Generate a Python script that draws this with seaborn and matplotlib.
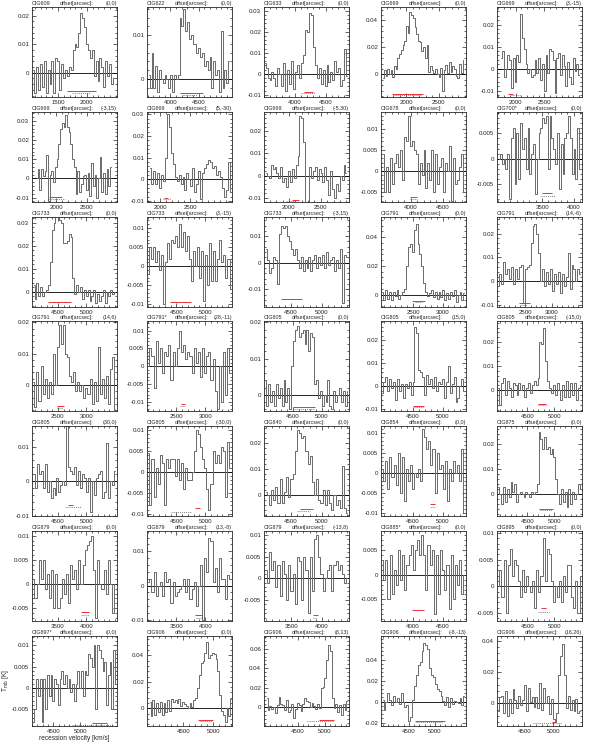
import numpy as np
import pandas as pd
import seaborn as sns
import matplotlib.pyplot as plt
from matplotlib.ticker import FixedLocator, MultipleLocator, AutoMinorLocator, FuncFormatter

# Galaxy names and pointing offsets of each panel
names = ["CIG609", "CIG622", "CIG633", "CIG669", "CIG669",
         "CIG669", "CIG669", "CIG669", "CIG678", "CIG700*",
         "CIG733", "CIG733", "CIG733", "CIG791", "CIG791",
         "CIG791", "CIG791*", "CIG805", "CIG805", "CIG805",
         "CIG805", "CIG805", "CIG840", "CIG854", "CIG875",
         "CIG879", "CIG879", "CIG879", "CIG885*", "CIG895",
         "CIG897*", "CIG906", "CIG906", "CIG906", "CIG906"]
offsets = ["(0,0)", "(0,0)", "(0,0)", "(0,0)", "(3,-15)",
           "(-3,15)", "(5,-30)", "(-5,30)", "(0,0)", "(0,0)",
           "(0,0)", "(3,-15)", "(-3,15)", "(0,0)", "(14,-6)",
           "(14,6)", "(28,-11)", "(0,0)", "(15,0)", "(-15,0)",
           "(30,0)", "(-30,0)", "(0,0)", "(0,0)", "(0,0)",
           "(0,0)", "(13,-8)", "(-13,8)", "(0,0)", "(0,0)",
           "(0,0)", "(0,0)", "(8,13)", "(-8,-13)", "(16,26)"]

# Spectra (T_mb in K), one channel per value
t_609 = [0.001, -0.007, 0.002, -0.006, 0.003, -0.005, 0.004, -0.007, 0.001, -0.004, 0.004, -0.007, 0.005, 0.004, -0.006,
         0.003, -0.002, 0.001, -0.001, 0.002, 0.001, 0.008, 0.010, 0.009, 0.014, 0.021, 0.019, 0.016, 0.010, 0.008,
         0.005, 0.008, -0.001, 0.004, -0.003, 0.005, 0.002, -0.005, 0.004, -0.001, 0.003, -0.004, -0.002, -0.002]
t_622 = [0.001, -0.002, 0.006, -0.002, 0.003, -0.003, 0.002, 0.0, -0.001, 0.001, 0.0, -0.002, 0.001, -0.003, 0.001,
         0.0, 0.001, 0.014, 0.012, 0.016, 0.011, 0.013, 0.009, 0.010, 0.008, 0.008, 0.006, 0.007, 0.005, 0.006,
         0.003, 0.004, 0.002, 0.005, -0.002, 0.004, 0.001, 0.002, -0.003, 0.011, -0.002, 0.002, -0.001, 0.004]
t_633 = [0.005, 0.003, -0.002, -0.003, 0.001, -0.002, -0.006, 0.003, 0.0, -0.006, 0.005, -0.008, 0.002, -0.005, 0.006,
         -0.007, 0.001, 0.004, -0.002, 0.005, 0.009, 0.021, 0.020, 0.029, 0.028, 0.013, 0.004, -0.002, 0.003, -0.005,
         0.002, -0.006, 0.004, -0.004, 0.001, -0.003, 0.006, 0.001, 0.003, -0.006, -0.003, 0.012, -0.001]
t_669a = [-0.003, 0.003, -0.001, 0.004, 0.0, 0.003, -0.002, 0.006, 0.004, 0.012, 0.015, 0.018, 0.022, 0.025, 0.036,
          0.031, 0.046, 0.044, 0.042, 0.035, 0.030, 0.025, 0.024, 0.017, 0.020, 0.012, 0.022, 0.002, 0.006, 0.003,
          0.001, 0.004, 0.0, -0.002, 0.005, -0.012, 0.003, 0.007, 0.001, 0.009, 0.002, 0.006, 0.004, -0.001, -0.003,
          0.008, 0.001, 0.011]
t_669b = [0.005, 0.008, -0.004, 0.0, 0.006, 0.004, -0.009, 0.005, -0.006, 0.006, 0.003, 0.025, 0.014, 0.009, 0.002,
          -0.002, 0.0, -0.004, -0.003, 0.004, -0.002, 0.005, -0.005, 0.002, -0.010, 0.006, -0.002, 0.009, 0.008, 0.004,
          -0.011, 0.005, 0.007, -0.003, 0.006, 0.001, -0.008, 0.003, -0.004, -0.007, 0.005, -0.001, 0.002, -0.003]
t_669c = [0.0, 0.005, -0.006, 0.005, 0.001, 0.004, 0.012, -0.012, 0.002, 0.004, -0.002, 0.006, 0.010, 0.018, 0.026,
          0.029, 0.027, 0.033, 0.027, 0.024, 0.018, 0.010, 0.006, -0.008, 0.004, -0.007, -0.003, 0.001, 0.002, -0.006,
          0.003, -0.009, 0.008, -0.004, 0.002, -0.010, 0.0, 0.011, -0.007, 0.003, -0.008, 0.005, -0.004, 0.006]
t_669d = [0.005, -0.002, 0.004, -0.002, 0.003, -0.004, 0.002, -0.001, 0.010, 0.030, 0.024, 0.012, 0.007, 0.001, -0.001,
          0.002, -0.002, 0.001, -0.005, 0.003, 0.0, -0.003, 0.005, -0.006, -0.002, 0.004, -0.009, 0.003, 0.005, 0.007,
          0.009, 0.008, 0.005, 0.006, 0.002, 0.004, 0.001, -0.004, -0.008, -0.005, 0.008, -0.006]
t_669e = [0.001, 0.0, -0.001, 0.005, 0.003, 0.004, 0.001, -0.001, 0.004, -0.003, -0.001, -0.005, 0.002, -0.003, 0.003,
          -0.001, 0.005, 0.009, 0.027, 0.026, 0.015, -0.012, -0.012, 0.004, -0.001, 0.002, 0.004, -0.002, 0.003, 0.001,
          -0.003, 0.004, -0.002, -0.009, 0.002, -0.006, -0.010, -0.004, -0.007, 0.0, -0.002, 0.005, 0.001]
t_678 = [0.004, -0.005, 0.001, -0.005, 0.003, -0.003, 0.002, 0.004, 0.001, 0.005, -0.002, 0.008, 0.007, 0.013, 0.006,
         0.007, 0.005, 0.004, -0.003, 0.002, -0.001, 0.005, -0.004, 0.002, -0.002, 0.005, -0.005, 0.004, -0.003, 0.001,
         0.003, -0.005, 0.002, 0.0, 0.006, -0.007, 0.003, -0.003, -0.002, 0.001, 0.004, -0.005]
t_700 = [0.0, 0.001, -0.001, 0.0, -0.002, 0.001, -0.008, 0.004, 0.006, -0.005, 0.005, -0.004, 0.007, 0.002, 0.004,
         -0.002, 0.006, -0.003, 0.001, 0.003, -0.007, 0.0, 0.005, 0.006, 0.008, 0.007, 0.0085, -0.002, 0.0085, 0.004,
         0.002, -0.001, 0.005, -0.006, 0.003, -0.003, 0.004, 0.005, 0.0085, 0.004, -0.003, 0.002, -0.004, 0.006, -0.002]
t_733a = [0.003, -0.003, 0.004, -0.002, 0.002, -0.002, 0.0, 0.001, 0.003, 0.013, 0.027, 0.030, 0.035, 0.033, 0.031,
          0.030, 0.021, 0.021, 0.022, 0.025, 0.024, 0.006, -0.001, 0.003, 0.0, 0.002, -0.003, 0.001, -0.002, 0.001,
          -0.004, -0.002, 0.001, -0.005, -0.001, -0.004, -0.002, 0.001, -0.005, 0.0, -0.002, 0.001, -0.001, 0.0]
t_733b = [-0.002, 0.005, 0.002, 0.005, 0.001, 0.004, -0.001, 0.003, -0.010, 0.001, 0.006, 0.002, 0.007, 0.006, 0.008,
          0.005, 0.011, 0.005, 0.009, 0.004, 0.008, 0.002, -0.004, 0.004, 0.0, 0.005, -0.003, 0.004, -0.009, 0.003,
          -0.005, 0.006, -0.004, 0.004, -0.004, 0.002, 0.007, 0.001, 0.003, -0.003, 0.002, -0.006]
t_733c = [0.005, 0.001, -0.004, -0.002, 0.002, 0.001, -0.008, 0.011, 0.014, 0.013, 0.014, 0.010, 0.008, 0.005, 0.003,
          0.005, 0.001, -0.002, 0.002, -0.003, 0.001, -0.002, 0.002, -0.003, 0.001, 0.003, -0.002, 0.002, -0.001, 0.003,
          -0.002, 0.004, -0.001, 0.001, 0.002, -0.003, 0.001, -0.002, 0.005, -0.015, 0.003, 0.002]
t_791a = [0.002, -0.004, 0.003, -0.003, 0.002, -0.004, 0.002, -0.001, 0.003, -0.003, 0.0, 0.002, 0.004, 0.020, 0.033,
          0.035, 0.030, 0.045, 0.049, 0.035, 0.028, 0.020, 0.008, 0.002, -0.001, 0.001, 0.003, -0.002, 0.002, -0.003,
          0.002, -0.002, 0.003, -0.004, 0.001, -0.003, 0.002, -0.001, 0.003, -0.005, 0.0, 0.002, -0.004, 0.001]
t_791b = [-0.002, 0.003, -0.001, 0.008, 0.003, 0.005, 0.001, 0.006, -0.001, 0.005, 0.001, 0.006, 0.007, -0.009, 0.005,
          0.006, 0.007, 0.016, 0.023, 0.024, 0.020, 0.012, 0.0, 0.005, -0.002, 0.004, -0.001, 0.005, -0.004, 0.003,
          -0.001, 0.004, -0.005, 0.003, -0.002, 0.002, 0.012, -0.003, 0.007, 0.005, 0.0, 0.005, 0.003]
t_791c = [0.001, -0.007, 0.004, -0.005, 0.006, -0.003, 0.002, -0.004, 0.001, -0.003, 0.010, 0.0, 0.012, 0.019, 0.013,
          0.019, 0.010, 0.009, 0.003, 0.001, 0.004, -0.002, 0.001, -0.002, 0.0, -0.004, -0.001, -0.003, 0.002, -0.006,
          0.001, -0.005, 0.012, -0.003, 0.002, -0.004, 0.003, -0.006, 0.005, 0.009, -0.008]
t_791d = [0.0, 0.005, 0.003, -0.006, 0.007, 0.001, 0.005, -0.002, 0.004, 0.003, 0.006, -0.004, 0.004, 0.0, 0.005,
          0.010, 0.004, 0.006, 0.002, 0.004, 0.003, -0.002, 0.005, 0.001, 0.004, -0.003, 0.005, -0.002, 0.003, 0.004,
          -0.004, 0.002, -0.007, -0.012, 0.0, -0.010, 0.004, -0.008, 0.005, -0.002]
t_805a = [0.004, -0.003, 0.003, -0.002, 0.001, -0.003, 0.003, -0.001, 0.002, -0.003, 0.004, -0.002, 0.002, -0.004, 0.008,
          0.015, 0.018, 0.019, 0.016, 0.017, 0.018, 0.014, 0.018, 0.012, 0.017, 0.016, 0.003, 0.004, -0.001, 0.001,
          -0.003, 0.0, -0.002, 0.004, -0.003, -0.004, 0.001, -0.002, 0.0, 0.002, -0.002, 0.001, -0.003, 0.001]
t_805b = [-0.003, 0.002, 0.004, -0.002, 0.003, -0.001, 0.002, -0.006, 0.003, -0.002, 0.001, -0.005, 0.001, -0.001, 0.002,
          -0.004, 0.002, 0.026, 0.023, 0.007, 0.006, 0.004, -0.004, 0.005, 0.001, 0.003, -0.001, 0.004, -0.002, 0.002,
          0.001, 0.003, -0.005, 0.002, 0.009, -0.003, 0.001, 0.004, -0.007, -0.005, 0.0, 0.003, -0.002]
t_805c = [0.001, -0.006, 0.003, 0.005, -0.002, 0.004, 0.001, -0.003, 0.003, 0.002, -0.002, 0.003, 0.0, 0.002, -0.003,
          0.001, 0.003, -0.001, 0.002, 0.004, 0.002, 0.005, 0.020, 0.019, 0.026, 0.012, 0.004, 0.001, -0.001, 0.002,
          -0.002, 0.003, 0.0, -0.004, 0.002, -0.003, 0.004, -0.003, 0.003, -0.002, 0.003, -0.004, 0.001, 0.002]
t_805d = [0.002, -0.002, 0.005, 0.002, 0.003, -0.002, 0.005, -0.003, 0.0, -0.005, -0.002, -0.004, 0.001, -0.003, -0.001,
          0.0, -0.001, 0.016, 0.004, 0.003, 0.002, 0.004, -0.001, 0.003, -0.002, 0.002, 0.001, -0.003, 0.001, -0.009,
          0.0, -0.004, 0.001, 0.002, 0.003, -0.005, -0.003, 0.011, -0.005, 0.0, -0.001, 0.003]
t_805e = [0.0045, -0.008, 0.003, -0.006, 0.001, -0.003, 0.004, 0.002, -0.008, 0.003, 0.001, 0.003, 0.003, -0.001, 0.003,
          -0.002, 0.002, -0.004, 0.001, -0.002, -0.002, 0.0, 0.005, 0.010, 0.009, 0.006, 0.003, 0.001, -0.004, -0.009,
          -0.003, 0.005, 0.002, 0.004, 0.002, 0.006, 0.005, -0.006, 0.007, 0.001]
t_840 = [0.001, 0.0, -0.004, 0.002, -0.002, 0.003, -0.003, 0.006, -0.003, 0.001, 0.007, -0.001, 0.006, 0.008, 0.017,
         0.025, 0.024, 0.022, 0.023, 0.017, 0.012, 0.015, 0.005, 0.0, 0.006, -0.002, -0.003, 0.002, -0.004, 0.002,
         -0.003, -0.006, 0.0, -0.004, -0.002, -0.005, 0.011, -0.005, -0.007]
t_854 = [0.001, -0.002, 0.003, -0.004, 0.004, -0.001, 0.002, -0.003, 0.005, -0.005, 0.004, -0.007, 0.001, -0.002, 0.002,
         -0.004, 0.0, -0.001, 0.001, -0.002, 0.011, 0.009, 0.006, 0.008, 0.002, 0.006, -0.005, 0.005, 0.001, 0.002,
         -0.004, 0.003, -0.007, 0.001, -0.002, 0.003, 0.0, 0.002, -0.002, 0.006, -0.010]
t_875 = [0.003, 0.0, -0.004, 0.003, -0.003, 0.002, -0.001, 0.005, 0.001, 0.004, -0.003, 0.0, 0.001, 0.0, -0.001,
         0.001, 0.0, -0.001, 0.001, 0.0, 0.001, 0.004, 0.025, 0.022, 0.018, 0.023, 0.018, 0.019, 0.016, 0.018,
         0.015, 0.006, 0.0, -0.004, 0.002, -0.003, 0.001, -0.005, 0.002, -0.004, 0.001, -0.002, 0.0, 0.004, 0.002]
t_879a = [0.001, -0.003, 0.0, 0.005, 0.001, 0.005, -0.001, 0.002, -0.003, 0.003, -0.005, 0.002, -0.005, -0.003, 0.001,
          -0.002, 0.002, -0.004, 0.004, 0.001, 0.003, -0.001, 0.005, 0.0, 0.004, 0.007, 0.008, 0.009, 0.010, 0.003,
          -0.007, 0.005, 0.0, -0.001, 0.003, -0.002, 0.005, 0.0, -0.006, 0.0]
t_879b = [0.001, 0.002, -0.002, 0.004, -0.003, 0.0, 0.001, -0.003, 0.004, 0.001, 0.002, -0.005, 0.001, -0.003, -0.002,
          -0.001, 0.0, 0.002, -0.002, 0.002, -0.004, -0.001, 0.001, -0.006, 0.0, 0.006, -0.010, 0.008, 0.004, 0.014,
          0.013, 0.001, 0.005, -0.002, 0.008, 0.002, 0.002, -0.004, 0.003, 0.002]
t_879c = [0.002, -0.001, 0.006, 0.002, 0.004, -0.002, 0.003, -0.004, 0.004, 0.001, -0.005, 0.003, -0.003, 0.001, -0.006,
          0.005, 0.004, -0.005, 0.005, 0.002, -0.008, 0.005, -0.003, 0.009, 0.010, 0.005, 0.001, -0.003, 0.0, 0.002,
          0.003, -0.003, 0.003, 0.004, 0.002, 0.003, 0.001, -0.001, 0.0]
t_885 = [0.003, -0.001, 0.003, -0.005, 0.004, -0.004, 0.001, -0.002, 0.005, -0.001, 0.004, -0.003, 0.002, 0.004, 0.006,
         0.001, 0.005, 0.007, 0.004, 0.008, 0.004, -0.003, 0.006, 0.002, 0.005, -0.008, 0.004, -0.004, 0.005, 0.001,
         -0.003, 0.002, -0.007, 0.004, -0.005, 0.002, -0.002, 0.003, -0.004, 0.0]
t_895 = [0.0, 0.003, -0.002, 0.005, -0.005, 0.004, 0.007, 0.002, 0.005, 0.004, 0.001, -0.002, 0.003, -0.001, 0.002,
         0.0, -0.001, 0.001, -0.004, 0.003, -0.001, 0.002, 0.009, 0.001, 0.007, 0.006, 0.001, -0.003, 0.0, -0.002,
         0.001, -0.003, 0.002, -0.001, 0.004, 0.004, -0.002, -0.004, 0.001, -0.005, 0.002]
t_897 = [-0.008, -0.005, 0.002, -0.002, 0.002, -0.008, 0.002, -0.005, 0.003, -0.002, 0.003, -0.003, 0.002, 0.001, -0.004,
         0.002, 0.004, 0.001, 0.003, 0.0, 0.002, -0.001, 0.001, -0.003, 0.001, 0.004, 0.0, 0.004, -0.002, 0.004,
         0.003, 0.008, 0.007, 0.005, 0.010, -0.005, 0.010, 0.009, 0.007, 0.004, 0.006, -0.004, 0.003, 0.006, -0.005,
         0.009, 0.001]
t_906a = [0.005, -0.006, 0.006, -0.005, 0.004, -0.003, 0.005, -0.005, 0.004, -0.003, 0.006, -0.002, 0.007, 0.005, 0.006,
          0.004, 0.007, 0.002, 0.005, 0.003, 0.002, 0.0, 0.004, 0.001, 0.006, 0.008, 0.015, 0.025, 0.034, 0.036,
          0.042, 0.050, 0.038, 0.040, 0.042, 0.041, 0.037, 0.028, 0.010, -0.002, -0.005, -0.010, 0.0, -0.006, 0.007]
t_906b = [0.010, -0.003, 0.001, -0.002, 0.0, -0.006, 0.002, 0.011, 0.004, 0.002, -0.003, 0.008, -0.005, -0.003, 0.004,
          -0.011, -0.002, 0.005, 0.002, -0.004, 0.003, 0.010, 0.007, 0.006, 0.0, 0.005, 0.001, -0.002, 0.003, -0.001,
          0.020, 0.021, 0.030, 0.048, 0.064, 0.058, 0.010, -0.001, 0.003, -0.005, 0.002, -0.008, 0.004, -0.003, 0.007]
t_906c = [0.002, -0.008, 0.0, 0.008, 0.002, -0.003, 0.005, 0.0, 0.003, -0.002, 0.008, 0.0, -0.005, -0.003, -0.018,
          -0.015, 0.002, 0.015, 0.025, 0.035, 0.038, 0.048, 0.056, 0.054, 0.050, 0.032, 0.025, 0.023, 0.017, 0.012,
          0.010, 0.005, 0.001, -0.003, 0.004, -0.005, 0.003, -0.002, 0.001, 0.0, -0.001, 0.003, -0.003, 0.005]
t_906d = [-0.005, 0.004, 0.005, -0.006, 0.008, -0.008, 0.003, -0.006, 0.009, 0.002, -0.003, 0.005, -0.001, 0.002, 0.012,
          -0.005, 0.010, 0.001, 0.004, -0.002, 0.004, -0.003, 0.013, -0.004, 0.010, 0.0, 0.005, -0.007, 0.003, -0.010,
          -0.012, -0.006, 0.018, 0.030, 0.038, 0.018, -0.003, 0.005, -0.004, 0.002, -0.005, 0.003, -0.006, -0.005]

spectra = [t_609, t_622, t_633, t_669a, t_669b,
           t_669c, t_669d, t_669e, t_678, t_700,
           t_733a, t_733b, t_733c, t_791a, t_791b,
           t_791c, t_791d, t_805a, t_805b, t_805c,
           t_805d, t_805e, t_840, t_854, t_875,
           t_879a, t_879b, t_879c, t_885, t_895,
           t_897, t_906a, t_906b, t_906c, t_906d]

# first / last channel velocity (km/s) of every spectrum
vel_first = [1070, 3620, 3510, 1640, 1750, 1680, 1830, 1640, 3560, 2820,
             4075, 4010, 4090, 1975, 1990, 2070, 2010, 4025, 3975, 3970,
             4075, 4010, 4090, 3975, 3970, 3070, 3010, 3090, 3475, 3970,
             4130, 3940, 3930, 4000, 4050]
vel_last = [2500, 5040, 4850, 2880, 3100, 2900, 3180, 2900, 4840, 4100,
            5500, 5440, 5410, 3370, 3540, 3500, 3440, 5440, 5370, 5480,
            5500, 5440, 5410, 5370, 5480, 4500, 4440, 4410, 4870, 5480,
            5670, 5300, 5420, 5560, 5470]

# velocity windows of the line (red) and of the HI width (dashed), with their height
red_win = [(1650, 2150, -0.0065), (4170, 4570, -0.0032), (4150, 4300, -0.0085), (1780, 2250, -0.0145), (1870, 1950, -0.0115),
           (1880, 2100, -0.0095), (2070, 2130, -0.0085), (2050, 2150, -0.0112), (3980, 4100, -0.0062), (3500, 3650, -0.0068),
           (4330, 4730, -0.0045), (4390, 4760, -0.0095), (4340, 4680, -0.0135), (2480, 2700, -0.0045), (2380, 2580, -0.0090),
           (2480, 2600, -0.0068), (2570, 2640, -0.0105), (4500, 4880, -0.0035), (4500, 4680, -0.0085), (4700, 4850, -0.0055),
           (4680, 4760, -0.0068), (4830, 4910, -0.0085), (4650, 4850, -0.0055), (4780, 4880, -0.0078), (4720, 4980, -0.0058),
           (3900, 4050, -0.0058), (3830, 3950, -0.0085), (3850, 3930, -0.0085), (3980, 4180, -0.0072), (4750, 4850, -0.0040),
           (5220, 5500, -0.0083), (4750, 5000, -0.0085), (4900, 5180, -0.0130), (4620, 5190, -0.0180), (4980, 5050, -0.0118)]
dash_win = [(1750, 2050, -0.0072), (4230, 4480, -0.0036), (4100, 4330, -0.0092), (1800, 2230, -0.0150), (1920, 2080, -0.0122),
            (1860, 2150, -0.0105), (2040, 2180, -0.0092), (1950, 2100, -0.0116), (3990, 4090, -0.0066), (3480, 3700, -0.0074),
            None, None, None, (2530, 2650, -0.0055), (2420, 2540, -0.0097),
            (2490, 2590, -0.0074), (2560, 2650, -0.0112), (4520, 4860, -0.0039), (4510, 4670, -0.0092), (4690, 4860, -0.0062),
            (4620, 4900, -0.0074), (4400, 4750, -0.0095), (4600, 4800, -0.0062), (4790, 4870, -0.0085), (4740, 4960, -0.0064),
            (3910, 4040, -0.0064), (3840, 3940, -0.0093), (3860, 3920, -0.0091), None, (4700, 4900, -0.0048),
            (4850, 5620, -0.0087), (4780, 4980, -0.0092), (4670, 5180, -0.0142), (4640, 5150, -0.0192), (4660, 5150, -0.0128)]

# axis limits and labelled ticks
x_lims = [(1050, 2520), (3590, 5090), (3500, 4880), (1610, 2920), (1680, 3150),
          (1600, 3000), (1780, 3200), (1610, 2940), (3530, 4870), (2790, 4130),
          (4046, 5534), (3987, 5466), (4063, 5437), (1954, 3399), (1964, 3572),
          (2046, 3534), (1987, 3466), (4000, 5466), (3954, 5399), (3944, 5507),
          (4046, 5534), (3987, 5466), (4063, 5437), (3954, 5399), (3944, 5507),
          (3046, 4534), (2987, 4466), (3063, 4437), (3454, 4899), (3944, 5507),
          (4100, 5690), (3895, 5312), (3880, 5450), (3969, 5592), (4029, 5500)]
y_lims = [(-0.0085, 0.023), (-0.0041, 0.0164), (-0.011, 0.0318), (-0.0168, 0.050), (-0.0129, 0.028),
          (-0.0123, 0.0346), (-0.0105, 0.031), (-0.012, 0.0288), (-0.0073, 0.0139), (-0.0085, 0.0092),
          (-0.0066, 0.0325), (-0.0107, 0.0129), (-0.0166, 0.0172), (-0.0087, 0.0541), (-0.0107, 0.0269),
          (-0.0083, 0.0204), (-0.0126, 0.0127), (-0.0045, 0.0204), (-0.0108, 0.0284), (-0.0086, 0.0287),
          (-0.0101, 0.016), (-0.0105, 0.0109), (-0.0082, 0.0267), (-0.0108, 0.01175), (-0.0086, 0.0273),
          (-0.0077, 0.011), (-0.0103, 0.0159), (-0.0098, 0.0109), (-0.0094, 0.0089), (-0.0065, 0.0104),
          (-0.009, 0.0122), (-0.0133, 0.0546), (-0.019, 0.073), (-0.0232, 0.0625), (-0.0144, 0.043)]
x_ticks = [[1500, 2000], [4000, 4500], [4000, 4500], [2000, 2500], [2000, 2500],
           [2000, 2500], [2000, 2500], [2000, 2500], [4000, 4500], [3500, 4000],
           [4500, 5000], [4500, 5000], [4500, 5000], [2500, 3000], [2500, 3000],
           [2500, 3000], [2500, 3000], [4500, 5000], [4500, 5000], [4500, 5000],
           [4500, 5000], [4500, 5000], [4500, 5000], [4500, 5000], [4500, 5000],
           [3500, 4000], [3500, 4000], [3500, 4000], [4000, 4500], [4500, 5000],
           [4500, 5000], [4500, 5000], [4500, 5000], [4500, 5000], [4500, 5000]]
y_ticks = [[0, 0.01, 0.02], [0, 0.01], [-0.01, 0, 0.01, 0.02, 0.03], [0, 0.02, 0.04], [-0.01, 0, 0.01, 0.02],
           [-0.01, 0, 0.01, 0.02, 0.03], [-0.01, 0, 0.01, 0.02, 0.03], [-0.01, 0, 0.01, 0.02], [-0.005, 0, 0.005, 0.01], [-0.005, 0, 0.005],
           [0, 0.01, 0.02, 0.03], [-0.01, -0.005, 0, 0.005, 0.01], [-0.01, 0, 0.01], [0, 0.02, 0.04], [-0.01, 0, 0.01, 0.02],
           [0, 0.01, 0.02], [-0.01, -0.005, 0, 0.005, 0.01], [0, 0.01, 0.02], [-0.01, 0, 0.01, 0.02], [0, 0.01, 0.02],
           [-0.01, 0, 0.01], [-0.01, -0.005, 0, 0.005, 0.01], [0, 0.01, 0.02], [-0.01, -0.005, 0, 0.005, 0.01], [0, 0.01, 0.02],
           [-0.005, 0, 0.005, 0.01], [-0.01, 0, 0.01], [-0.005, 0, 0.005, 0.01], [-0.005, 0, 0.005], [-0.005, 0, 0.005, 0.01],
           [-0.005, 0, 0.005, 0.01], [0, 0.02, 0.04], [0, 0.02, 0.04, 0.06], [-0.02, 0, 0.02, 0.04], [0, 0.02, 0.04]]

sns.set_style("ticks")
plt.rcParams["font.family"] = ["Liberation Sans", "DejaVu Sans"]
plt.rcParams["axes.unicode_minus"] = False

fig = plt.figure(figsize=(6, 7.47), dpi=100)
W, H = 600, 747
col_left = [32, 147, 264, 381, 497]
row_top = [7, 112, 217, 321, 426, 531, 636]
box_w, box_h = 85, 90
fs = 4.4
fs_title = 3.9

for i in range(35):
    r, c = divmod(i, 5)
    ax = fig.add_axes([col_left[c] / W, 1 - (row_top[r] + box_h) / H, box_w / W, box_h / H])
    vals = spectra[i]
    spec = pd.DataFrame({"v": np.linspace(vel_first[i], vel_last[i], len(vals)), "t": vals})
    sns.lineplot(data=spec, x="v", y="t", ax=ax, estimator=None, drawstyle="steps-mid",
                 color="#6a6a6a", lw=0.7)
    ax.axhline(0, color="black", lw=0.6, zorder=1)
    lo, hi, yy = red_win[i]
    ax.hlines(yy, lo, hi, color="#e8333a", lw=0.7)
    if dash_win[i] is not None:
        lo, hi, yy = dash_win[i]
        ax.hlines(yy, lo, hi, color="#555555", lw=0.5, linestyles=(0, (1.5, 1.5)))

    ax.set_xlim(*x_lims[i])
    ax.set_ylim(*y_lims[i])
    ax.xaxis.set_major_locator(FixedLocator(x_ticks[i]))
    ax.xaxis.set_minor_locator(MultipleLocator(100))
    ax.yaxis.set_major_locator(FixedLocator(y_ticks[i]))
    ax.yaxis.set_minor_locator(AutoMinorLocator(5))
    ax.yaxis.set_major_formatter(FuncFormatter(lambda v, p: f"{v:g}"))
    ax.tick_params(which="both", direction="in", top=True, right=True,
                   labelsize=fs, width=0.5, pad=2)
    ax.tick_params(which="major", length=3)
    ax.tick_params(which="minor", length=1.5)
    for s in ax.spines.values():
        s.set_linewidth(0.6)
    ax.set_xlabel("")
    ax.set_ylabel("")

    # panel header: galaxy, offset label, offset value
    ax.text(0.0, 1.015, names[i], transform=ax.transAxes, fontsize=fs_title, ha="left", va="bottom")
    ax.text(0.33, 1.015, "offset[arcsec]:", transform=ax.transAxes, fontsize=fs_title, ha="left", va="bottom")
    ax.text(1.0, 1.015, offsets[i], transform=ax.transAxes, fontsize=fs_title, ha="right", va="bottom")

    if i == 30:
        ax.set_ylabel("T$_{\\rm mb}$ [K]", fontsize=fs + 0.3, labelpad=1)
        ax.set_xlabel("recession velocity [km/s]", fontsize=fs + 0.3, labelpad=1)

fig.savefig("out.png", dpi=100)
